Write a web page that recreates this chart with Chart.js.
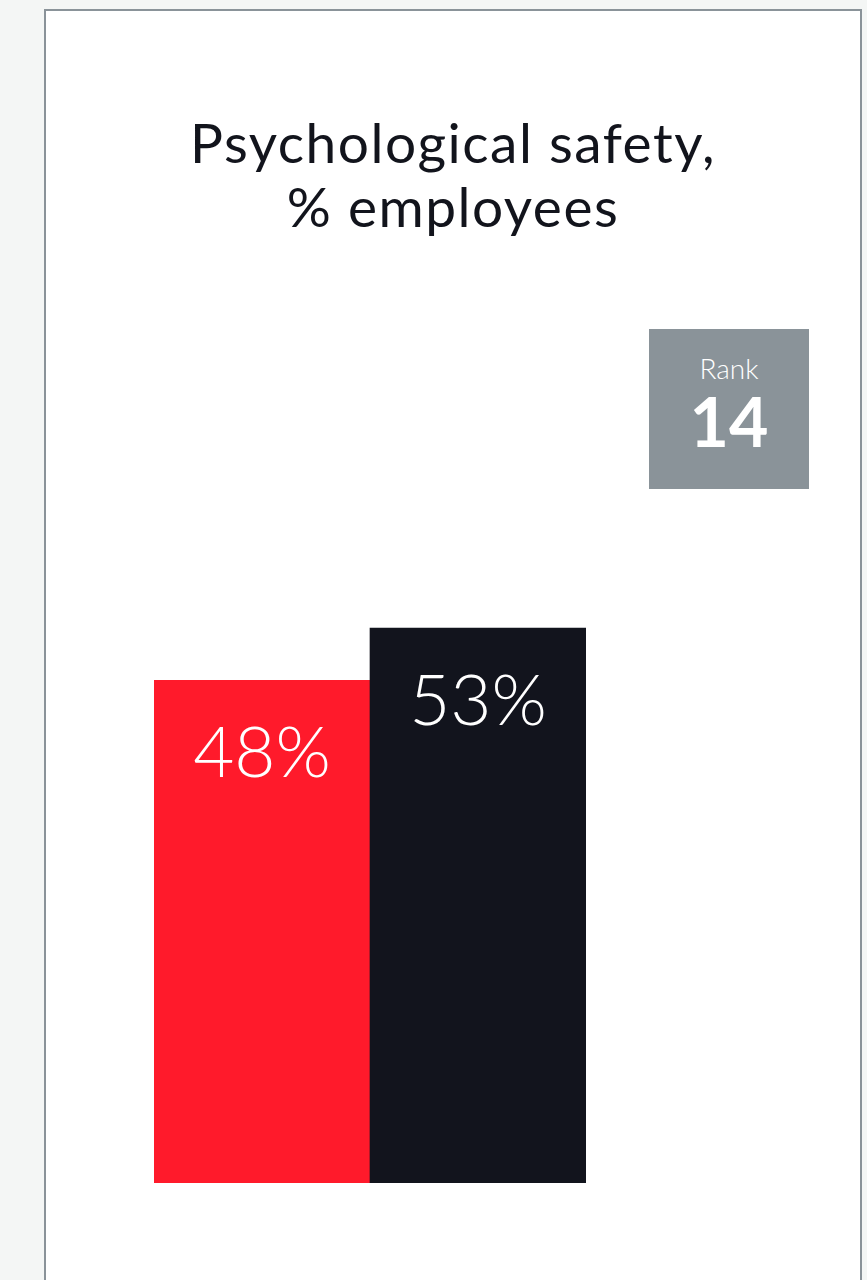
<!DOCTYPE html>
<html>
<head>
<meta charset="utf-8">
<script src="https://cdn.jsdelivr.net/npm/chart.js@4/dist/chart.umd.min.js"></script>
<style>
  html, body { margin: 0; padding: 0; background: #f4f6f5; width: 867px; height: 1280px; overflow: hidden; }
  .card { position: absolute; left: 44px; top: 9px; width: 814px; height: 1400px; background: #fff; border: 2px solid #8a9399; }
  .title { position: absolute; left: 0; right: 0; top: 99px; text-align: center; font-family: Lato, sans-serif; font-weight: 400; font-size: 55px; line-height: 64px; letter-spacing: 1.5px; color: #12141c; }
  .rank { position: absolute; left: 603px; top: 318px; width: 160px; height: 160px; background: #8a9399; color: #fff; text-align: center; font-family: Lato, sans-serif; }
  .rank .lbl { position: absolute; left: 0; right: 0; top: 22px; font-size: 28px; font-weight: 300; }
  .rank .num { position: absolute; left: 0; right: 0; top: 52px; font-size: 68px; font-weight: 700; line-height: 80px; }
  .chartbox { position: absolute; left: 154px; top: 136px; width: 432px; height: 1047px; }
</style>
</head>
<body>
<div class="card">
  <div class="title">Psychological safety,<br>% employees</div>
  <div class="rank"><div class="lbl">Rank</div><div class="num">14</div></div>
</div>
<div class="chartbox"><canvas id="myChart"></canvas></div>
<script>
const categories = ['Company', 'Benchmark'];
const values = [48, 53];
const barColors = ['#ff1a2b', '#12141d'];
const valueLabels = ['48%', '53%'];

// draws the % labels inside the top of each bar
const valueLabelPlugin = {
  id: 'valueLabels',
  afterDatasetsDraw(chart) {
    const ctx = chart.ctx;
    const meta = chart.getDatasetMeta(0);
    ctx.save();
    ctx.fillStyle = '#ffffff';
    ctx.font = '300 71px Lato';
    ctx.textAlign = 'center';
    ctx.textBaseline = 'alphabetic';
    meta.data.forEach((bar, i) => {
      ctx.fillText(valueLabels[i], bar.x, bar.y + 97);
    });
    ctx.restore();
  }
};

const ctx = document.getElementById('myChart').getContext('2d');
new Chart(ctx, {
  type: 'bar',
  data: {
    labels: categories,
    datasets: [{
      data: values,
      backgroundColor: barColors,
      borderWidth: 0,
      categoryPercentage: 1,
      barPercentage: 1
    }]
  },
  options: {
    responsive: true,
    maintainAspectRatio: false,
    animation: false,
    layout: { padding: 0 },
    plugins: { legend: { display: false }, tooltip: { enabled: false } },
    scales: {
      x: { display: false },
      y: { display: false, min: 0, max: 100 }
    }
  },
  plugins: [valueLabelPlugin]
});
</script>
</body>
</html>
